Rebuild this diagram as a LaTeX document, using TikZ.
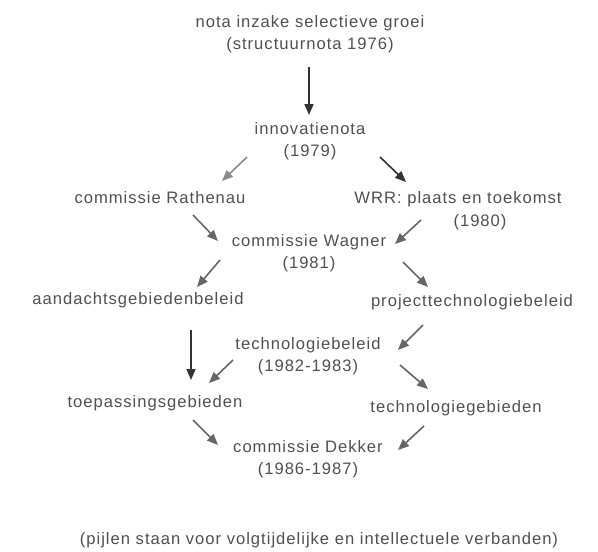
\documentclass[tikz,border=0pt]{standalone}
\usepackage{fontspec}
\setmainfont{Liberation Sans}[LetterSpace=6]
\usetikzlibrary{arrows.meta}
\definecolor{txt}{HTML}{505050}
\definecolor{dark}{HTML}{333333}
\definecolor{mid}{HTML}{666666}
\definecolor{light}{HTML}{8A8A8A}
\tikzset{
  lbl/.style={text=txt, inner sep=0pt, align=center, font=\fontsize{16.6}{22}\selectfont},
  arr/.style={draw=mid, line width=1.6pt, -{Triangle[length=11pt,width=9pt]}},
  arrdark/.style={arr, draw=dark},
  arrlight/.style={arr, draw=light},
}
\begin{document}
\begin{tikzpicture}[x=1pt,y=-1pt]
\useasboundingbox (0,0) rectangle (598,552);
\node[lbl] (nota) at (310,34) {nota inzake selectieve groei\\(structuurnota 1976)};
\node[lbl] (innov) at (310,141) {innovatienota\\(1979)};
\node[lbl] (rath) at (160,198) {commissie Rathenau};
\node[lbl] (wrr) at (458,199) {WRR: plaats en toekomst};
\node[lbl] (wrryear) at (480,222) {(1980)};
\node[lbl] (wagner) at (309,253.5) {commissie Wagner\\(1981)};
\node[lbl] (aand) at (138,300) {aandachtsgebiedenbeleid};
\node[lbl] (proj) at (472,302) {projecttechnologiebeleid};
\node[lbl] (techbel) at (308,356) {technologiebeleid\\(1982-1983)};
\node[lbl] (toep) at (155,403) {toepassingsgebieden};
\node[lbl] (techgeb) at (456,408) {technologiegebieden};
\node[lbl] (dekker) at (308,459) {commissie Dekker\\(1986-1987)};
\node[lbl] (caption) at (319,540) {(pijlen staan voor volgtijdelijke en intellectuele verbanden)};

\draw[arrdark] ([shift={(-1,33)}]nota.center) -- ([shift={(-1,-26)}]innov.center);
\draw[arrlight] ([shift={(-63,16)}]innov.center) -- ([shift={(62,-17)}]rath.center);
\draw[arrdark] ([shift={(70,16)}]innov.center) -- ([shift={(-52,-17)}]wrr.center);
\draw[arr] ([shift={(33,17)}]rath.center) -- ([shift={(-91,-12.5)}]wagner.center);
\draw[arr] ([shift={(-37,21)}]wrr.center) -- ([shift={(86,-9.5)}]wagner.center);
\draw[arr] ([shift={(-89,6.5)}]wagner.center) -- ([shift={(59,-13)}]aand.center);
\draw[arr] ([shift={(94,8.5)}]wagner.center) -- ([shift={(-44,-15)}]proj.center);
\draw[arrdark] ([shift={(53,30)}]aand.center) -- ([shift={(36,-23)}]toep.center);
\draw[arr] ([shift={(-49,23)}]proj.center) -- ([shift={(90,-6)}]techbel.center);
\draw[arr] ([shift={(-75,4)}]techbel.center) -- ([shift={(54,-20)}]toep.center);
\draw[arr] ([shift={(92,9)}]techbel.center) -- ([shift={(-28,-19)}]techgeb.center);
\draw[arr] ([shift={(38,17)}]toep.center) -- ([shift={(-90,-14)}]dekker.center);
\draw[arr] ([shift={(-32,18)}]techgeb.center) -- ([shift={(90,-9)}]dekker.center);
\end{tikzpicture}
\end{document}
